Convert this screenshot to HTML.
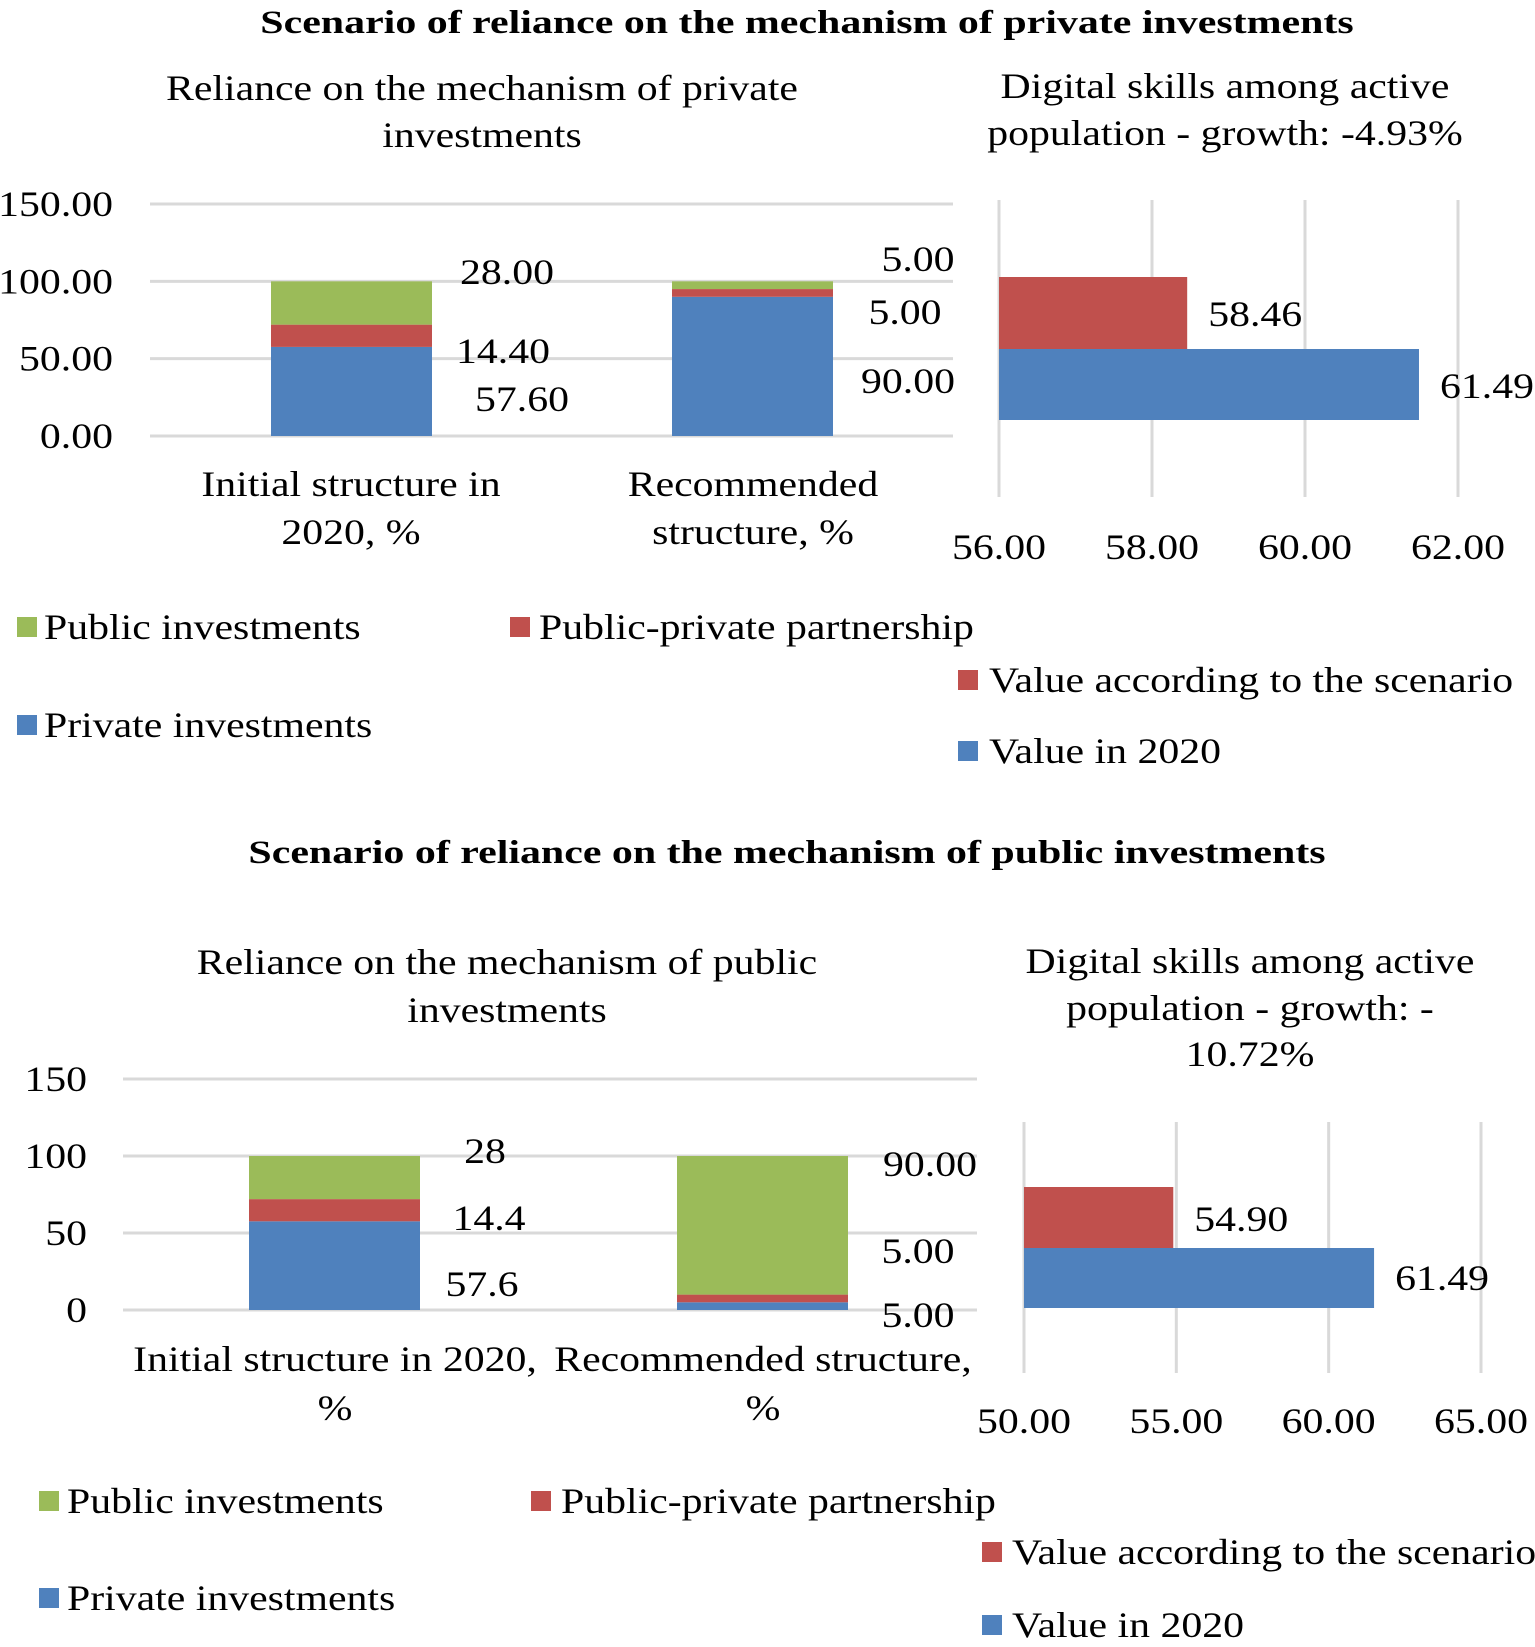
<!DOCTYPE html>
<html><head><meta charset="utf-8"><style>
html,body{margin:0;padding:0;background:#fff}
svg{display:block}
text{font-family:"Liberation Serif",serif;fill:#000}
</style></head><body>
<svg id="s" width="1535" height="1647" viewBox="0 0 1535 1647"></svg>
<script>
const NS='http://www.w3.org/2000/svg';
const svg=document.getElementById('s');
const C={pub:'#9BBB59',ppp:'#C0504D',pri:'#4F81BD',scen:'#C0504D',base:'#4F81BD',grid:'#D9D9D9'};

// ---- data ----
const stackCats=['Initial structure in 2020, %','Recommended structure, %'];
const topPrivate=[57.6,90];
const topPPP=[14.4,5];
const topPublic=[28,5];
const topPrivLbl=['57.60','90.00'];
const topPPPLbl=['14.40','5.00'];
const topPubLbl=['28.00','5.00'];
const topYTicks=[0,50,100,150];
const topYTickLbl=['0.00','50.00','100.00','150.00'];
const topSkill2020=[61.49];
const topSkillScen=[58.46];
const topXTicks=[56,58,60,62];

const botPrivate=[57.6,5];
const botPPP=[14.4,5];
const botPublic=[28,90];
const botPrivLbl=['57.6','5.00'];
const botPPPLbl=['14.4','5.00'];
const botPubLbl=['28','90.00'];
const botYTicks=[0,50,100,150];
const botYTickLbl=['0','50','100','150'];
const botSkill2020=[61.49];
const botSkillScen=[54.90];
const botXTicks=[50,55,60,65];

function el(tag,attrs,parent){const e=document.createElementNS(NS,tag);for(const k in attrs)e.setAttribute(k,attrs[k]);(parent||svg).appendChild(e);return e;}
function txt(s,x,y,size,anchor,name,bold){const t=el('text',{x:x,y:y,'font-size':size,'text-anchor':anchor||'middle','dominant-baseline':'central'});if(bold)t.setAttribute('font-weight','bold');t.textContent=s;


const w=t.getComputedTextLength();
if(w>0){t.setAttribute('textLength',w*(bold?1.27:1.16));t.setAttribute('lengthAdjust','spacingAndGlyphs');}
return t;}

function stacked(o){
  const y=v=>o.y0-(v/150)*(o.y0-o.y150);
  o.ticks.forEach((tv,i)=>{
    const l=el('line',{x1:o.gx0,x2:o.gx1,y1:y(tv),y2:y(tv),stroke:C.grid,'stroke-width':3});
    
    
    txt(o.tickLbl[i],o.tickX,y(tv),36,'end','y-tick-label');
  });
  for(let i=0;i<2;i++){
    const segs=[[o.pri[i],C.pri,'private'],[o.ppp[i],C.ppp,'ppp'],[o.pub[i],C.pub,'public']];
    let acc=0;
    segs.forEach(s=>{
      const r=el('rect',{x:o.bx[i],width:o.bw,y:y(acc+s[0]),height:y(acc)-y(acc+s[0]),fill:s[1]});
      
      
      acc+=s[0];
    });
    txt(o.pubL[i],o.lx.pub[i],o.ly.pub[i],36,'middle','label-public');
    txt(o.pppL[i],o.lx.ppp[i],o.ly.ppp[i],36,'middle','label-ppp');
    txt(o.priL[i],o.lx.pri[i],o.ly.pri[i],36,'middle','label-private');
  }
}
function hbar(o){
  const x=v=>o.x0+(v-o.t[0])/(o.t[o.t.length-1]-o.t[0])*(o.x1-o.x0);
  o.t.forEach(tv=>{
    const l=el('line',{x1:x(tv),x2:x(tv),y1:o.top,y2:o.bot,stroke:C.grid,'stroke-width':3});
    
    
    txt(tv.toFixed(2),x(tv),o.tickY,36,'middle','x-tick-label');
  });
  const r1=el('rect',{x:x(o.t[0]),y:o.ry[0],width:x(o.scen[0])-x(o.t[0]),height:o.ry[1]-o.ry[0],fill:C.scen});
  
  
  const r2=el('rect',{x:x(o.t[0]),y:o.ry[1],width:x(o.base[0])-x(o.t[0]),height:o.ry[2]-o.ry[1],fill:C.base});
  
  
  txt(o.scen[0].toFixed(2),x(o.scen[0])+o.off,o.ly[0],36,'middle','label-scenario');
  txt(o.base[0].toFixed(2),x(o.base[0])+o.off,o.ly[1],36,'middle','label-2020');
}
function legend(items){
  items.forEach(it=>{
    const r=el('rect',{x:it[0],y:it[2]-10,width:20,height:20,fill:it[3]});
    
    
    txt(it[4],it[1],it[2],36,'start','legend-entry');
  });
}

// ---- top ----
txt('Scenario of reliance on the mechanism of private investments',807,23,33,'middle','top-title',true);
txt('Reliance on the mechanism of private',482,88,36,'middle','top-left-title');
txt('investments',482,135,36,'middle','top-left-title');
txt('Digital skills among active',1225,86,36,'middle','top-right-title');
txt('population - growth: -4.93%',1225,133,36,'middle','top-right-title');
stacked({y0:436,y150:204,gx0:150,gx1:953,tickX:113,ticks:topYTicks,tickLbl:topYTickLbl,bx:[271,672],bw:161,
  pri:topPrivate,ppp:topPPP,pub:topPublic,priL:topPrivLbl,pppL:topPPPLbl,pubL:topPubLbl,
  lx:{pub:[507,918],ppp:[503,905],pri:[522,908]},ly:{pub:[272,259],ppp:[351,312],pri:[399,381]}});
txt('Initial structure in',351,484,36,'middle','x-category-label');
txt('2020, %',351,532,36,'middle','x-category-label');
txt('Recommended',753,484,36,'middle','x-category-label');
txt('structure, %',753,532,36,'middle','x-category-label');
hbar({x0:999,x1:1458,t:topXTicks,top:200,bot:497,tickY:547,ry:[277,349,420],scen:topSkillScen,base:topSkill2020,off:68,ly:[314,386]});
legend([[17,44,627,C.pub,'Public investments'],[510,539,627,C.ppp,'Public-private partnership'],
 [17,44,725,C.pri,'Private investments'],[958,989,680,C.scen,'Value according to the scenario'],[958,989,751,C.base,'Value in 2020']]);

// ---- bottom ----
txt('Scenario of reliance on the mechanism of public investments',787,853,33,'middle','bottom-title',true);
txt('Reliance on the mechanism of public',507,962,36,'middle','bottom-left-title');
txt('investments',507,1010,36,'middle','bottom-left-title');
txt('Digital skills among active',1250,961,36,'middle','bottom-right-title');
txt('population - growth: -',1250,1008,36,'middle','bottom-right-title');
txt('10.72%',1250,1054,36,'middle','bottom-right-title');
stacked({y0:1310,y150:1079,gx0:123,gx1:977,tickX:87,ticks:botYTicks,tickLbl:botYTickLbl,bx:[249,677],bw:171,
  pri:botPrivate,ppp:botPPP,pub:botPublic,priL:botPrivLbl,pppL:botPPPLbl,pubL:botPubLbl,
  lx:{pub:[485,930],ppp:[489,918],pri:[482,918]},ly:{pub:[1151,1164],ppp:[1218,1251],pri:[1284,1315]}});
txt('Initial structure in 2020,',335,1359,36,'middle','x-category-label');
txt('%',335,1408,36,'middle','x-category-label');
txt('Recommended structure,',763,1359,36,'middle','x-category-label');
txt('%',763,1408,36,'middle','x-category-label');
hbar({x0:1024,x1:1481,t:botXTicks,top:1122,bot:1373,tickY:1421,ry:[1187,1248,1308],scen:botSkillScen,base:botSkill2020,off:68,ly:[1219,1278]});
legend([[39,67,1501,C.pub,'Public investments'],[531,561,1501,C.ppp,'Public-private partnership'],
 [39,67,1598,C.pri,'Private investments'],[982,1012,1552,C.scen,'Value according to the scenario'],[982,1012,1625,C.base,'Value in 2020']]);
</script>
</body></html>
